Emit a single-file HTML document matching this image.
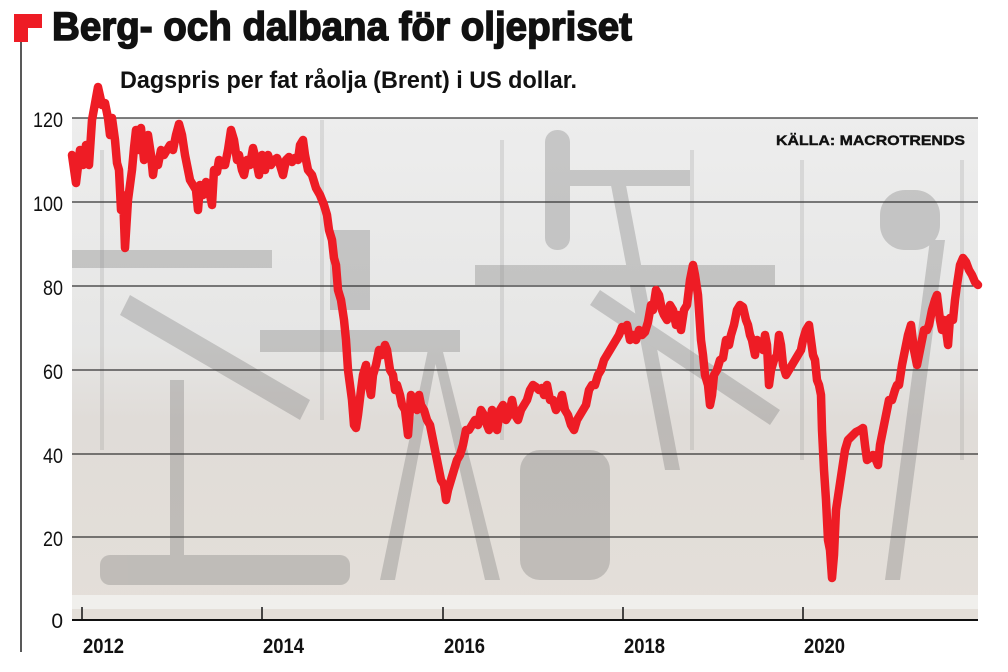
<!DOCTYPE html>
<html><head><meta charset="utf-8"><style>
html,body{margin:0;padding:0;background:#fff;}
svg{display:block;}
text{font-family:"Liberation Sans",sans-serif;}
</style></head><body>
<svg width="1008" height="672" viewBox="0 0 1008 672" xmlns="http://www.w3.org/2000/svg">
<defs>
<linearGradient id="bg" x1="0" y1="0" x2="0" y2="1">
<stop offset="0" stop-color="#ededed"/>
<stop offset="0.45" stop-color="#e6e6e5"/>
<stop offset="0.6" stop-color="#e0dcd8"/>
<stop offset="1" stop-color="#e4dfd9"/>
</linearGradient>
</defs>
<rect x="14" y="14" width="28" height="28" fill="#ee1c25"/>
<rect x="28" y="28" width="14" height="14" fill="#fff"/>
<line x1="21" y1="42" x2="21" y2="652" stroke="#222" stroke-width="1.5"/>
<text x="52" y="40" font-size="40" font-weight="bold" fill="#111" stroke="#111" stroke-width="1.5" textLength="580" lengthAdjust="spacingAndGlyphs">Berg- och dalbana för oljepriset</text>
<text x="120" y="88" font-size="24" font-weight="bold" fill="#111" textLength="457" lengthAdjust="spacingAndGlyphs">Dagspris per fat råolja (Brent) i US dollar.</text>

<rect x="72" y="118" width="906" height="502" fill="url(#bg)"/>
<g fill="#666" opacity="0.28">
<rect x="72" y="250" width="200" height="18"/>
<polygon points="130,295 310,400 300,420 120,315"/>
<rect x="170" y="380" width="14" height="200"/>
<rect x="260" y="330" width="200" height="22"/>
<polygon points="430,340 440,340 500,580 485,580"/>
<polygon points="440,340 430,340 380,580 395,580"/>
<rect x="475" y="265" width="300" height="20"/>
<rect x="545" y="130" width="25" height="120" rx="12"/>
<rect x="560" y="170" width="130" height="16"/>
<polygon points="610,180 625,180 680,470 665,470"/>
<polygon points="600,290 780,410 770,425 590,305"/>
<rect x="520" y="450" width="90" height="130" rx="20"/>
<rect x="100" y="555" width="250" height="30" rx="10"/>
<rect x="880" y="190" width="60" height="60" rx="25"/>
<polygon points="930,240 945,240 900,580 885,580"/>
<rect x="330" y="230" width="40" height="80"/>
</g>
<g fill="#888" opacity="0.2">
<rect x="100" y="150" width="4" height="300"/><rect x="320" y="120" width="4" height="300"/>
<rect x="500" y="140" width="4" height="300"/><rect x="690" y="150" width="4" height="300"/>
<rect x="800" y="160" width="4" height="300"/><rect x="960" y="160" width="4" height="300"/>
</g>
<rect x="72" y="595" width="906" height="14" fill="#f2f2f0" opacity="0.8"/>
<g stroke="#333" stroke-width="1.3">
<line x1="72" y1="118" x2="978" y2="118"/>
<line x1="72" y1="202" x2="978" y2="202"/>
<line x1="72" y1="286" x2="978" y2="286"/>
<line x1="72" y1="370" x2="978" y2="370"/>
<line x1="72" y1="454" x2="978" y2="454"/>
<line x1="72" y1="537" x2="978" y2="537"/>
</g>
<line x1="72" y1="620" x2="978" y2="620" stroke="#111" stroke-width="2"/>
<g stroke="#111" stroke-width="1.5">
<line x1="82" y1="607" x2="82" y2="620"/><line x1="262" y1="607" x2="262" y2="620"/>
<line x1="443" y1="607" x2="443" y2="620"/><line x1="623" y1="607" x2="623" y2="620"/>
<line x1="803" y1="607" x2="803" y2="620"/>
</g>
<g font-size="21" fill="#111" text-anchor="end">
<text x="63" y="127" textLength="30" lengthAdjust="spacingAndGlyphs">120</text><text x="63" y="211" textLength="30" lengthAdjust="spacingAndGlyphs">100</text><text x="63" y="295" textLength="20" lengthAdjust="spacingAndGlyphs">80</text>
<text x="63" y="379" textLength="20" lengthAdjust="spacingAndGlyphs">60</text><text x="63" y="463" textLength="20" lengthAdjust="spacingAndGlyphs">40</text><text x="63" y="546" textLength="20" lengthAdjust="spacingAndGlyphs">20</text><text x="63" y="628">0</text>
</g>
<g font-size="21" font-weight="bold" fill="#111">
<text x="83" y="653" textLength="41" lengthAdjust="spacingAndGlyphs">2012</text>
<text x="263" y="653" textLength="41" lengthAdjust="spacingAndGlyphs">2014</text>
<text x="444" y="653" textLength="41" lengthAdjust="spacingAndGlyphs">2016</text>
<text x="624" y="653" textLength="41" lengthAdjust="spacingAndGlyphs">2018</text>
<text x="804" y="653" textLength="41" lengthAdjust="spacingAndGlyphs">2020</text>
</g>
<text x="776" y="145" font-size="14" font-weight="bold" fill="#111" stroke="#111" stroke-width="0.4" textLength="189" lengthAdjust="spacingAndGlyphs">KÄLLA: MACROTRENDS</text>
<polyline fill="none" stroke="#ee1c25" stroke-width="8.5" stroke-linejoin="round" stroke-linecap="round" points="72,155 76,183 80,150 83,165 86,145 89,165 92,120 98,87 102,105 105,103 108,118 110,135 112,118 115,140 117,163 119,170 121,210 123,195 125,248 128,200 132,170 134,148 136,130 139,150 141,128 144,160 146,140 148,135 151,155 153,175 155,160 158,165 161,150 164,155 167,150 170,145 173,150 176,135 179,124 182,135 185,155 188,170 190,180 193,185 196,190 198,210 200,185 203,195 206,182 209,190 212,205 214,170 217,172 219,160 222,165 225,165 228,150 231,130 234,140 237,160 239,155 242,170 244,175 247,160 250,165 253,148 256,160 259,175 262,155 265,170 268,155 271,165 274,160 277,158 280,165 283,175 286,160 289,157 292,162 295,158 298,160 300,145 303,140 305,155 308,170 312,175 316,188 320,195 324,205 327,215 329,230 332,240 334,258 336,265 338,290 341,300 344,320 346,340 348,370 350,385 352,400 354,425 356,428 358,415 361,390 363,375 366,365 369,385 371,395 373,375 376,365 379,350 382,355 385,345 387,350 390,370 393,375 395,390 397,385 400,395 402,405 405,410 408,435 411,395 414,400 417,410 419,395 421,405 424,410 427,420 430,425 433,440 435,450 438,465 441,480 444,485 446,500 448,490 451,480 454,470 457,460 460,455 463,445 466,430 469,430 472,425 475,420 478,425 481,410 484,415 487,425 489,430 492,410 494,420 497,430 500,410 503,405 506,420 509,415 512,400 515,415 518,420 521,410 524,405 527,400 530,390 533,385 536,387 539,390 542,388 544,395 547,385 550,400 553,400 556,410 559,405 562,395 565,410 568,415 571,425 574,430 577,420 580,415 583,410 586,405 589,390 592,385 595,385 598,375 601,370 604,360 607,355 610,350 613,345 616,340 619,335 622,327 625,330 627,325 630,340 633,335 636,340 639,330 642,335 645,332 648,322 651,305 653,310 656,290 659,295 662,310 664,315 667,320 670,305 673,310 676,325 678,315 681,330 684,310 687,305 690,280 693,265 695,275 698,295 701,340 703,355 705,375 708,385 710,405 712,395 714,375 717,370 720,360 723,358 726,340 729,345 731,335 734,325 737,310 740,305 743,307 746,320 748,325 750,335 752,340 755,355 757,340 760,345 763,350 765,335 767,345 769,385 771,370 774,360 777,355 779,335 781,345 783,365 786,375 789,370 792,365 795,360 798,355 801,350 803,340 806,330 809,325 811,340 813,355 815,360 817,380 819,385 821,395 822,430 824,470 826,500 828,540 830,550 832,578 834,555 836,510 839,490 842,470 845,450 848,440 852,436 856,432 860,430 863,428 865,445 867,460 870,458 873,455 876,460 878,465 880,445 883,430 886,415 889,400 892,400 895,390 897,385 899,385 902,365 905,350 908,335 911,325 914,350 917,365 919,355 921,345 924,330 927,330 929,325 932,310 935,300 937,295 940,320 942,330 944,320 946,330 948,345 950,318 953,320 955,300 957,285 960,265 963,258 966,262 969,270 972,275 975,282 978,285"/>
</svg>
</body></html>
